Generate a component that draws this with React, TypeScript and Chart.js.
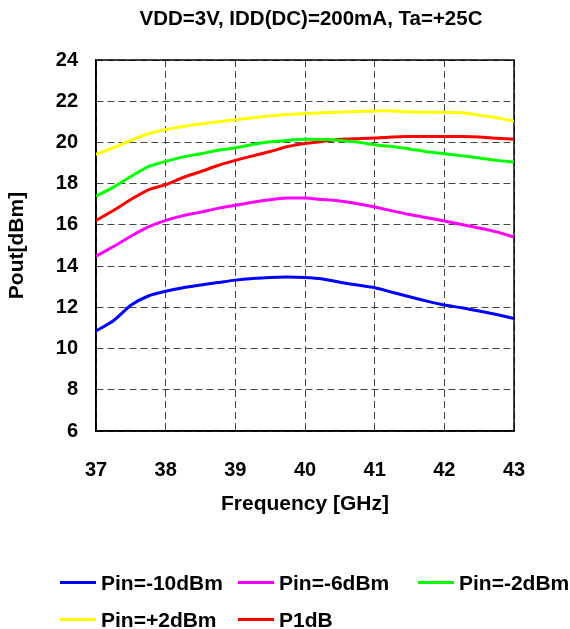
import React, { useEffect, useRef } from 'react';
import { Chart, registerables } from 'chart.js';

Chart.register(...registerables);

const chartTitle = 'VDD=3V, IDD(DC)=200mA, Ta=+25C';
const xTitle = 'Frequency [GHz]';
const yTitle = 'Pout[dBm]';

const freqGHz = [37, 37.25, 37.5, 37.75, 38, 38.25, 38.5, 38.75, 39, 39.25, 39.5, 39.75, 40, 40.25, 40.5, 40.75, 41, 41.25, 41.5, 41.75, 42, 42.25, 42.5, 42.75, 43];
const pinM10 = [10.85, 11.35, 12.1, 12.55, 12.78, 12.95, 13.08, 13.2, 13.32, 13.4, 13.45, 13.47, 13.45, 13.38, 13.22, 13.08, 12.95, 12.73, 12.51, 12.3, 12.11, 11.98, 11.82, 11.65, 11.46];
const pinM6 = [14.48, 14.95, 15.45, 15.9, 16.22, 16.45, 16.62, 16.8, 16.95, 17.1, 17.22, 17.3, 17.3, 17.23, 17.16, 17.03, 16.87, 16.68, 16.5, 16.35, 16.19, 16.02, 15.85, 15.66, 15.41];
const pinM2 = [17.39, 17.83, 18.35, 18.83, 19.08, 19.3, 19.45, 19.62, 19.74, 19.9, 20.03, 20.1, 20.15, 20.14, 20.1, 20.02, 19.89, 19.8, 19.68, 19.55, 19.45, 19.35, 19.25, 19.13, 19.05];
const pinP2 = [19.42, 19.75, 20.1, 20.42, 20.63, 20.78, 20.9, 21.0, 21.1, 21.2, 21.28, 21.35, 21.4, 21.44, 21.47, 21.5, 21.53, 21.53, 21.48, 21.47, 21.47, 21.44, 21.32, 21.2, 21.03];
const p1dB = [16.22, 16.7, 17.23, 17.7, 17.95, 18.3, 18.58, 18.88, 19.13, 19.35, 19.56, 19.8, 19.95, 20.05, 20.15, 20.18, 20.21, 20.27, 20.29, 20.29, 20.29, 20.29, 20.27, 20.2, 20.15];

const seriesNames = ['Pin=-10dBm', 'Pin=-6dBm', 'Pin=-2dBm', 'Pin=+2dBm', 'P1dB'];
const seriesValues = [pinM10, pinM6, pinM2, pinP2, p1dB];
const seriesColors = ['#0000FF', '#FF00FF', '#00FF00', '#FFFF00', '#FF0000'];

const xMin = 37, xMax = 43, xStep = 1;
const yMin = 6, yMax = 24, yStep = 2;

const FONT = '"Liberation Sans", Arial, Helvetica, sans-serif';

export default function App() {
  const canvasRef = useRef<HTMLCanvasElement | null>(null);

  useEffect(() => {
    if (!canvasRef.current) return;
    const datasets = seriesNames.map((name, i) => ({
      label: name,
      data: freqGHz.map((f, j) => ({ x: f, y: seriesValues[i][j] })),
      borderColor: seriesColors[i],
      backgroundColor: seriesColors[i],
      borderWidth: 3,
      pointRadius: 0,
      tension: 0.2,
      fill: false,
    }));
    const chart = new Chart(canvasRef.current, {
      type: 'line',
      data: { datasets },
      options: {
        responsive: false,
        animation: false,
        layout: { padding: { left: 0, right: 56, top: 60, bottom: 98 } },
        plugins: {
          legend: { display: false },
          tooltip: { enabled: false },
          title: { display: false },
        },
        scales: {
          x: {
            type: 'linear',
            min: xMin,
            max: xMax,
            afterFit: (s: any) => { s.height = 100; },
            ticks: {
              stepSize: xStep,
              color: '#000',
              padding: 27,
              font: { family: FONT, size: 20, weight: 'bold' },
            },
            grid: { color: '#444', lineWidth: 1, drawTicks: false },
            border: { display: true, color: '#000', width: 1.5, dash: [7, 4] },
            title: {
              display: true,
              text: xTitle,
              color: '#000',
              font: { family: FONT, size: 21, weight: 'bold' },
              padding: { top: 0, bottom: 14 },
            },
          },
          y: {
            type: 'linear',
            min: yMin,
            max: yMax,
            afterFit: (s: any) => { s.width = 96; },
            ticks: {
              stepSize: yStep,
              color: '#000',
              padding: 18,
              font: { family: FONT, size: 20, weight: 'bold' },
            },
            grid: { color: '#444', lineWidth: 1, drawTicks: false },
            border: { display: true, color: '#000', width: 1.5, dash: [7, 4] },
            title: {
              display: true,
              text: yTitle,
              color: '#000',
              font: { family: FONT, size: 21, weight: 'bold' },
              padding: { top: 5, bottom: 0 },
            },
          },
        },
      },
      plugins: [
        {
          id: 'frame',
          beforeDatasetsDraw(c: any) {
            const { ctx, chartArea } = c;
            ctx.save();
            ctx.strokeStyle = '#000';
            ctx.lineWidth = 1.5;
            ctx.setLineDash([]);
            ctx.strokeRect(chartArea.left, chartArea.top, chartArea.right - chartArea.left, chartArea.bottom - chartArea.top);
            ctx.restore();
          },
        },
      ],
    } as any);
    return () => chart.destroy();
  }, []);

  const legendItem = (i: number) => (
    <div key={i} style={{ display: 'flex', alignItems: 'center', height: 37 }}>
      <span style={{ display: 'inline-block', width: 36, height: 3, background: seriesColors[i], marginRight: 5 }} />
      <span style={{ fontFamily: FONT, fontWeight: 'bold', fontSize: 21, lineHeight: '24px', color: '#000', whiteSpace: 'nowrap' }}>{seriesNames[i]}</span>
    </div>
  );

  return (
    <div style={{ position: 'fixed', left: 0, top: 0, width: 570, height: 629, background: '#fff', overflow: 'hidden' }}>
      <canvas ref={canvasRef} width={570} height={629} style={{ position: 'absolute', left: 0, top: 0 }} />
      <div
        style={{
          position: 'absolute',
          left: 111,
          width: 400,
          top: 6,
          height: 24,
          lineHeight: '24px',
          textAlign: 'center',
          fontFamily: FONT,
          fontWeight: 'bold',
          fontSize: 20.5,
          color: '#000',
          whiteSpace: 'nowrap',
        }}
      >
        {chartTitle}
      </div>
      <div
        style={{
          position: 'absolute',
          left: 60,
          top: 564,
          display: 'grid',
          gridTemplateColumns: '178px 180px 180px',
          rowGap: 0,
        }}
      >
        {seriesNames.map((_, i) => legendItem(i))}
      </div>
    </div>
  );
}
